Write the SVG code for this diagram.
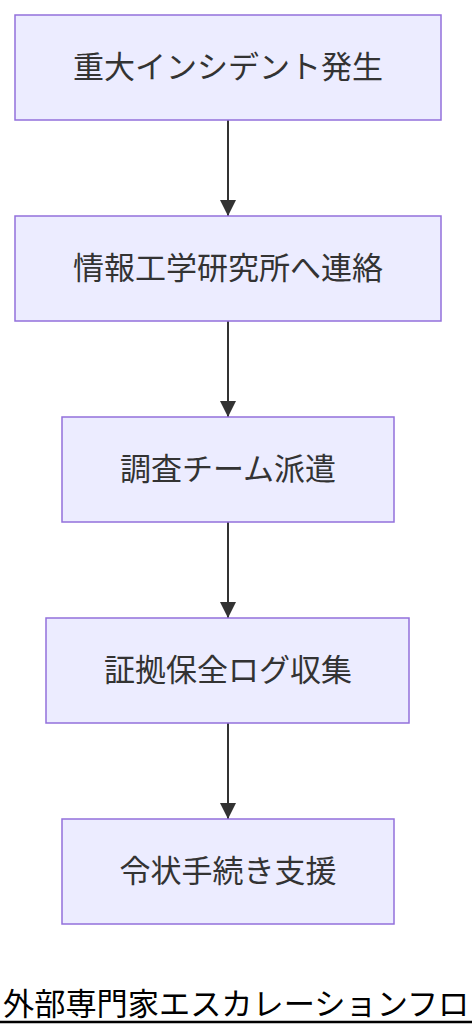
<svg xmlns="http://www.w3.org/2000/svg" width="472" height="1036" viewBox="0 0 472 1036">
<style>
.node rect{fill:#ECECFF;stroke:#9370DB;stroke-width:1.5}
.node text{font-family:"Noto Sans CJK JP","Noto Sans",sans-serif;font-size:31px;fill:#333;text-anchor:middle;dominant-baseline:central}
.edge{stroke:#333;stroke-width:2;fill:none}
.title{font-family:"Noto Sans CJK JP","Noto Sans",sans-serif;font-size:31.2px;fill:#000}
</style>
<defs>
<marker id="arrow" viewBox="0 0 10 10" refX="10" refY="5" markerWidth="16" markerHeight="16" markerUnits="userSpaceOnUse" orient="auto">
<path d="M0,0 L10,5 L0,10 z" fill="#333"/>
</marker>
</defs>
<rect width="472" height="1036" fill="#fff"/>
<g id="edges">
<path class="edge" d="M228,120 V216" marker-end="url(#arrow)"/>
<path class="edge" d="M228,321 V417" marker-end="url(#arrow)"/>
<path class="edge" d="M228,522 V618" marker-end="url(#arrow)"/>
<path class="edge" d="M228,723 V819" marker-end="url(#arrow)"/>
</g>
<g id="n1" class="node"><rect x="15" y="15" width="426" height="105"/><text x="228" y="64">重大インシデント発生</text></g>
<g id="n2" class="node"><rect x="15" y="216" width="426" height="105"/><text x="228" y="265">情報工学研究所へ連絡</text></g>
<g id="n3" class="node"><rect x="62" y="417" width="332" height="105"/><text x="228" y="466">調査チーム派遣</text></g>
<g id="n4" class="node"><rect x="46" y="618" width="363" height="105"/><text x="228" y="667">証拠保全ログ収集</text></g>
<g id="n5" class="node"><rect x="62" y="819" width="332" height="105"/><text x="228" y="868">令状手続き支援</text></g>
<g id="title">
<text class="title" x="3" y="1015">外部専門家エスカレーションフロ</text>
<line x1="0" y1="1022" x2="472" y2="1022" stroke="#000" stroke-width="2.5"/>
</g>
</svg>
